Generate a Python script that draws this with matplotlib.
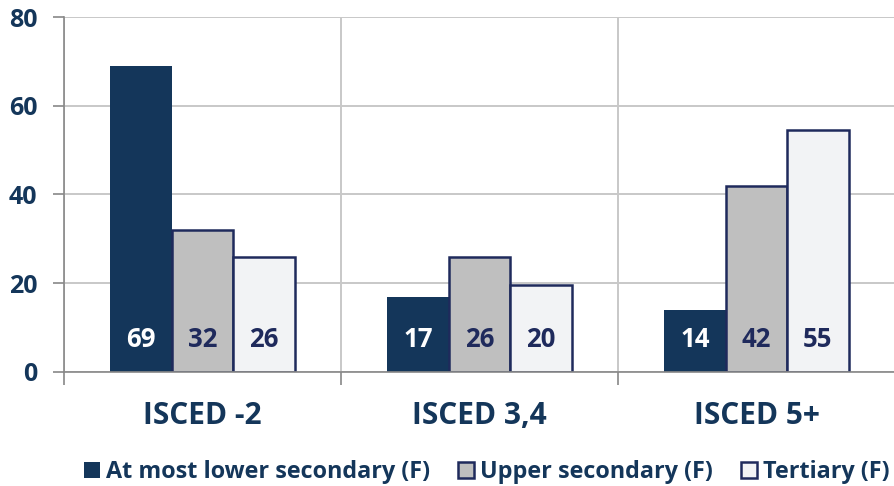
import numpy as np
import matplotlib.pyplot as plt
from matplotlib.ticker import FixedLocator

plt.rcParams['font.family'] = ['Open Sans', 'DejaVu Sans']

categories = ["ISCED -2", "ISCED 3,4", "ISCED 5+"]
series_names = ["At most lower secondary (F)", "Upper secondary (F)", "Tertiary (F)"]
lower_sec = [69, 17, 14]
upper_sec = [32, 26, 42]
tertiary = [26, 19.5, 54.5]
labels_lower = ["69", "17", "14"]
labels_upper = ["32", "26", "42"]
labels_tert = ["26", "20", "55"]

navy = "#14365a"
edge = "#1f2a5c"
colors = [navy, "#bfbfbf", "#f2f3f5"]
text_colors = ["white", "#1f2a5c", "#1f2a5c"]

fig = plt.figure(figsize=(8.95, 4.86), dpi=100)
ax = fig.add_axes([0.0715, 0.2346, 0.9285, 0.7304])

x = np.arange(len(categories)) + 0.5
w = 0.222
all_vals = [lower_sec, upper_sec, tertiary]
all_labels = [labels_lower, labels_upper, labels_tert]
for i, (vals, labs) in enumerate(zip(all_vals, all_labels)):
    pos = x + (i - 1) * w
    ax.bar(pos, vals, width=w, color=colors[i],
           edgecolor=(navy if i == 0 else edge), linewidth=(0 if i == 0 else 1.8),
           label=series_names[i], zorder=3)
    for p, lab in zip(pos, labs):
        ax.text(p, 7.4, lab, ha="center", va="center", fontsize=18.5,
                fontweight="bold", color=text_colors[i], zorder=4)

ax.set_xlim(0, 3)
ax.set_ylim(0, 80)
ax.set_yticks([0, 20, 40, 60, 80])
ax.set_xticks(x)
ax.set_xticklabels(categories)
ax.xaxis.set_minor_locator(FixedLocator([0, 1, 2, 3]))
ax.tick_params(axis="x", which="major", length=0, pad=21, labelsize=21.5,
               labelcolor=navy)
ax.tick_params(axis="x", which="minor", length=9, width=1.2, color="#888888")
ax.tick_params(axis="y", length=8, width=1.2, color="#888888", pad=11,
               labelsize=18, labelcolor=navy)
for lab in ax.get_xticklabels() + ax.get_yticklabels():
    lab.set_fontweight("bold")

ax.grid(True, axis="y", color="#c8c8c8", linewidth=1.4, zorder=0)
ax.grid(True, axis="x", which="minor", color="#c8c8c8", linewidth=1.4, zorder=0)
for s in ["top", "right"]:
    ax.spines[s].set_visible(False)
for s in ["left", "bottom"]:
    ax.spines[s].set_color("#888888")
    ax.spines[s].set_linewidth(1.2)
    ax.spines[s].set_zorder(5)

handles, labels = ax.get_legend_handles_labels()
leg = fig.legend(handles, labels, loc="center", bbox_to_anchor=(0.544, 0.028),
                 ncol=3, frameon=False, handlelength=0.7, handleheight=0.7,
                 handletextpad=0.25, columnspacing=1.2,
                 prop={"size": 16.8, "weight": "bold"})
for t in leg.get_texts():
    t.set_color(navy)

fig.savefig("out.png", dpi=100)
